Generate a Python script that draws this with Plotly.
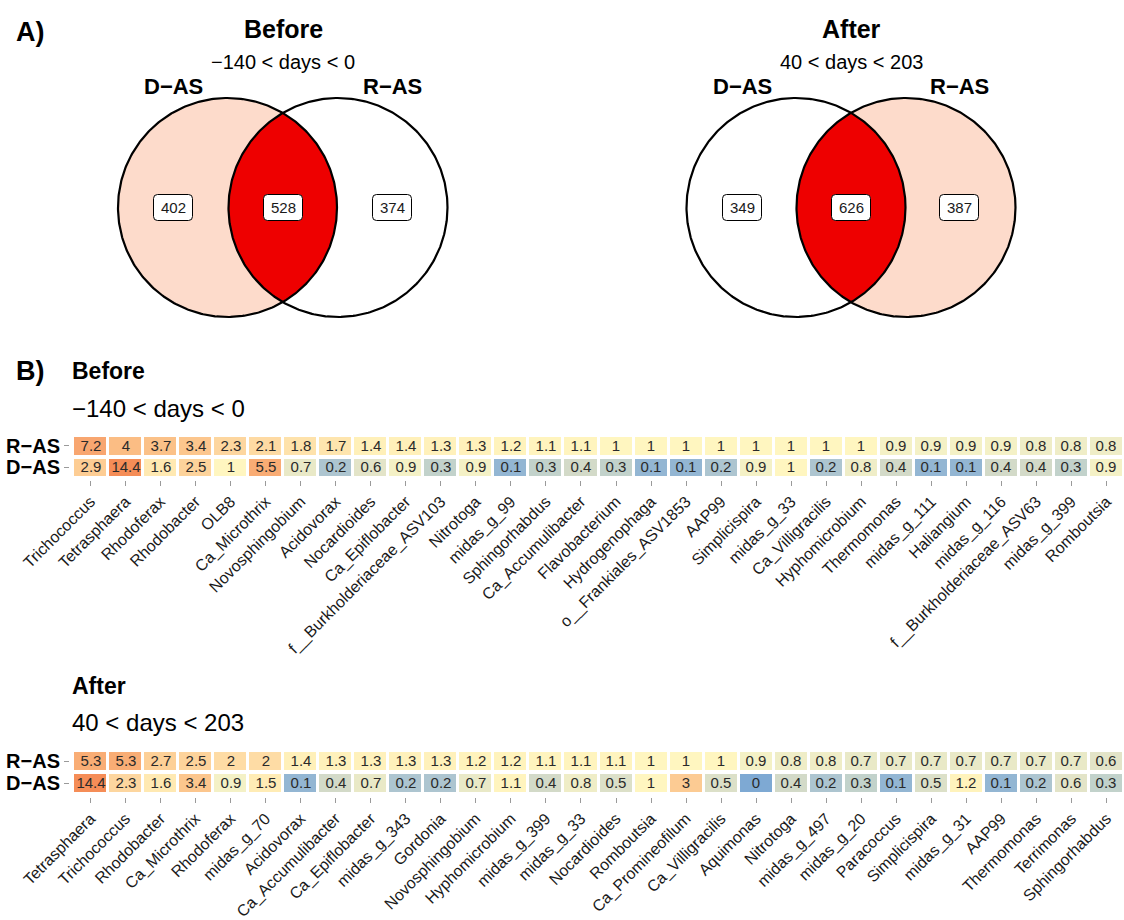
import numpy as np
import plotly.graph_objects as go

W, H = 1124, 920
FONT = "Liberation Sans, Arial, Helvetica, sans-serif"

# ---------------- data ----------------
# Venn counts: [D-AS only, shared, R-AS only]
venn_before = [402, 528, 374]
venn_after = [349, 626, 387]

groups = ["D−AS", "R−AS"]

before_genera = [
    "Trichococcus", "Tetrasphaera", "Rhodoferax", "Rhodobacter", "OLB8",
    "Ca_Microthrix", "Novosphingobium", "Acidovorax", "Nocardioides",
    "Ca_Epiflobacter", "f__Burkholderiaceae_ASV103", "Nitrotoga", "midas_g_99",
    "Sphingorhabdus", "Ca_Accumulibacter", "Flavobacterium", "Hydrogenophaga",
    "o__Frankiales_ASV1853", "AAP99", "Simplicispira", "midas_g_33",
    "Ca_Villigracilis", "Hyphomicrobium", "Thermomonas", "midas_g_111",
    "Haliangium", "midas_g_116", "f__Burkholderiaceae_ASV63", "midas_g_399",
    "Romboutsia",
]
before_ras = [7.2, 4, 3.7, 3.4, 2.3, 2.1, 1.8, 1.7, 1.4, 1.4, 1.3, 1.3, 1.2, 1.1, 1.1,
              1, 1, 1, 1, 1, 1, 1, 1, 0.9, 0.9, 0.9, 0.9, 0.8, 0.8, 0.8]
before_das = [2.9, 14.4, 1.6, 2.5, 1, 5.5, 0.7, 0.2, 0.6, 0.9, 0.3, 0.9, 0.1, 0.3, 0.4,
              0.3, 0.1, 0.1, 0.2, 0.9, 1, 0.2, 0.8, 0.4, 0.1, 0.1, 0.4, 0.4, 0.3, 0.9]

after_genera = [
    "Tetrasphaera", "Trichococcus", "Rhodobacter", "Ca_Microthrix", "Rhodoferax",
    "midas_g_70", "Acidovorax", "Ca_Accumulibacter", "Ca_Epiflobacter",
    "midas_g_343", "Gordonia", "Novosphingobium", "Hyphomicrobium", "midas_g_399",
    "midas_g_33", "Nocardioides", "Romboutsia", "Ca_Promineofilum",
    "Ca_Villigracilis", "Aquimonas", "Nitrotoga", "midas_g_497", "midas_g_20",
    "Paracoccus", "Simplicispira", "midas_g_31", "AAP99", "Thermomonas",
    "Terrimonas", "Sphingorhabdus",
]
after_ras = [5.3, 5.3, 2.7, 2.5, 2, 2, 1.4, 1.3, 1.3, 1.3, 1.3, 1.2, 1.2, 1.1, 1.1,
             1.1, 1, 1, 1, 0.9, 0.8, 0.8, 0.7, 0.7, 0.7, 0.7, 0.7, 0.7, 0.7, 0.6]
after_das = [14.4, 2.3, 1.6, 3.4, 0.9, 1.5, 0.1, 0.4, 0.7, 0.2, 0.2, 0.7, 1.1, 0.4, 0.8,
             0.5, 1, 3, 0.5, 0, 0.4, 0.2, 0.3, 0.1, 0.5, 1.2, 0.1, 0.2, 0.6, 0.3]

# ---------------- helpers ----------------
def px_x(p):
    return p / W


def px_y(p):
    return 1 - p / H


# log-scaled colour ramp (blue -> pale yellow -> orange), floored at 0.05 %
FLOOR, TOP = 0.05, 14.4
ramp = [(0.05, "#7ea9d3"), (0.1, "#93b6d3"), (0.2, "#adc5d0"), (0.3, "#c2d2cb"),
        (0.4, "#d3dac8"), (0.6, "#e3e4c8"), (0.9, "#f4f1c6"), (1.0, "#fff6c0"),
        (1.4, "#fff0b9"), (2.0, "#fedca5"), (3.4, "#fcc68d"), (5.3, "#f9ad75"),
        (7.2, "#f8a670"), (14.4, "#f58d57")]
lo, hi = np.log10(FLOOR), np.log10(TOP)
colorscale = [[(np.log10(v) - lo) / (hi - lo), c] for v, c in ramp]
colorscale[0][0], colorscale[-1][0] = 0.0, 1.0


def heat_z(rows):
    return [[float(np.log10(max(v, FLOOR))) for v in r] for r in rows]


def fmt(v):
    return f"{v:g}"


fig = go.Figure()

# ---------------- heatmaps ----------------
heat_specs = [
    (before_genera, before_das, before_ras, "x", "y", 435, 478, 480),
    (after_genera, after_das, after_ras, "x2", "y2", 750, 794, 797),
]
for genera, das, ras, xa, ya, top, bot, axis_y in heat_specs:
    rows = [das, ras]
    fig.add_trace(go.Heatmap(
        x=genera, y=groups, z=heat_z(rows),
        text=[[fmt(v) for v in r] for r in rows],
        texttemplate="%{text}",
        textfont=dict(family=FONT, size=15, color="#2a2a2a"),
        colorscale=colorscale, zmin=lo, zmax=hi, showscale=False,
        xgap=3, ygap=4, hoverinfo="skip", xaxis=xa, yaxis=ya,
    ))
    xkey = "xaxis" if xa == "x" else "xaxis2"
    ykey = "yaxis" if ya == "y" else "yaxis2"
    fig.layout[xkey] = dict(
        domain=[px_x(73), px_x(1124)], anchor="free", position=px_y(axis_y),
        side="bottom", showgrid=False, zeroline=False, showline=False,
        ticks="outside", ticklen=5, tickwidth=1, tickcolor="#9a9a9a",
        tickmode="array", tickvals=genera, ticktext=genera,
        tickangle=-45, tickfont=dict(family=FONT, size=16, color="#1a1a1a"),
        automargin=False, fixedrange=True,
    )
    fig.layout[ykey] = dict(
        domain=[px_y(bot), px_y(top)], anchor="free", position=px_x(69),
        showgrid=False, zeroline=False, showline=False,
        ticks="outside", ticklen=5, tickwidth=1, tickcolor="#9a9a9a",
        tickmode="array", tickvals=groups, ticktext=groups,
        tickfont=dict(family=FONT, size=20, color="#000000", weight="bold"),
        automargin=False, fixedrange=True,
    )

# ---------------- Venn diagrams ----------------
R = 109.5
CY = 207.5
PEACH = "#fddbcb"
RED = "#ee0000"
theta = np.linspace(0, 2 * np.pi, 400)


def circle(cx):
    return cx + R * np.cos(theta), CY + R * np.sin(theta)


def lens(c1, c2):
    d = c2 - c1
    a = np.arccos(d / (2 * R))
    t1 = np.linspace(-a, a, 120)
    t2 = np.linspace(np.pi - a, np.pi + a, 120)
    xs = np.concatenate([c1 + R * np.cos(t1), c2 + R * np.cos(t2)])
    ys = np.concatenate([CY + R * np.sin(t1), CY + R * np.sin(t2)])
    return xs, ys


def rounded_box(cx, cy, w=39, h=26, r=4):
    x0, x1, y0, y1 = cx - w / 2, cx + w / 2, cy - h / 2, cy + h / 2
    return (f"M {x0 + r} {y0} L {x1 - r} {y0} Q {x1} {y0} {x1} {y0 + r} "
            f"L {x1} {y1 - r} Q {x1} {y1} {x1 - r} {y1} L {x0 + r} {y1} "
            f"Q {x0} {y1} {x0} {y1 - r} L {x0} {y0 + r} Q {x0} {y0} {x0 + r} {y0} Z")


venn_specs = [
    (227.5, 338.0, "left", venn_before, "Before", "−140 < days < 0", 283, (173, 392)),
    (796.0, 906.0, "right", venn_after, "After", "40 < days < 203", 851, (742, 959)),
]
annotations = []
shapes = []
for c1, c2, shaded, counts, title, subtitle, tx, (lx, rx) in venn_specs:
    for cx, side in ((c1, "left"), (c2, "right")):
        xs, ys = circle(cx)
        fig.add_trace(go.Scatter(
            x=xs, y=ys, mode="lines", fill="toself",
            fillcolor=PEACH if side == shaded else "#ffffff",
            line=dict(width=0, color="rgba(0,0,0,0)"),
            hoverinfo="skip", showlegend=False, xaxis="x3", yaxis="y3",
        ))
    lx_, ly_ = lens(c1, c2)
    fig.add_trace(go.Scatter(
        x=lx_, y=ly_, mode="lines", fill="toself", fillcolor=RED,
        line=dict(width=0, color="rgba(0,0,0,0)"),
        hoverinfo="skip", showlegend=False, xaxis="x3", yaxis="y3",
    ))
    for cx in (c1, c2):
        xs, ys = circle(cx)
        fig.add_trace(go.Scatter(
            x=xs, y=ys, mode="lines", line=dict(width=2.2, color="#000000"),
            hoverinfo="skip", showlegend=False, xaxis="x3", yaxis="y3",
        ))
    # count labels in each region
    for x, n in zip((lx, tx, rx), counts):
        shapes.append(dict(type="path", path=rounded_box(x, CY), xref="x3", yref="y3",
                           fillcolor="#ffffff", line=dict(color="#000000", width=1),
                           layer="above"))
        annotations.append(dict(
            x=x, y=CY, xref="x3", yref="y3", text=str(n), showarrow=False,
            font=dict(family=FONT, size=15, color="#1a1a1a"),
        ))
    annotations += [
        dict(x=tx, y=29, xref="x3", yref="y3", text=f"<b>{title}</b>", showarrow=False,
             font=dict(family=FONT, size=25, color="#000000")),
        dict(x=tx, y=62, xref="x3", yref="y3", text=subtitle, showarrow=False,
             font=dict(family=FONT, size=20, color="#000000")),
        dict(x=lx, y=86, xref="x3", yref="y3", text=f"<b>{groups[0]}</b>", showarrow=False,
             font=dict(family=FONT, size=22, color="#000000")),
        dict(x=rx, y=86, xref="x3", yref="y3", text=f"<b>{groups[1]}</b>", showarrow=False,
             font=dict(family=FONT, size=22, color="#000000")),
    ]

fig.layout["xaxis3"] = dict(domain=[0, 1], range=[0, W], visible=False,
                            fixedrange=True, automargin=False, anchor="y3")
fig.layout["yaxis3"] = dict(domain=[px_y(340), 1], range=[340, 0], visible=False,
                            fixedrange=True, anchor="x3", automargin=False)

# ---------------- panel headings ----------------
def head(x, y, text, size, anchor="left"):
    annotations.append(dict(
        x=px_x(x), y=px_y(y), xref="paper", yref="paper", text=text,
        showarrow=False, xanchor=anchor, yanchor="middle",
        font=dict(family=FONT, size=size, color="#000000"),
    ))


head(14, 32, "<b>A)</b>", 27)
head(14, 371, "<b>B)</b>", 27)
head(70, 371, "<b>Before</b>", 23)
head(70, 408, "−140 < days < 0", 24)
head(70, 686, "<b>After</b>", 23)
head(70, 722, "40 < days < 203", 24)

fig.update_layout(
    width=W, height=H, margin=dict(l=0, r=0, t=0, b=0, autoexpand=False),
    paper_bgcolor="#ffffff", plot_bgcolor="rgba(0,0,0,0)",
    annotations=annotations, shapes=shapes, showlegend=False,
    font=dict(family=FONT),
)

fig.write_html("out.html")
